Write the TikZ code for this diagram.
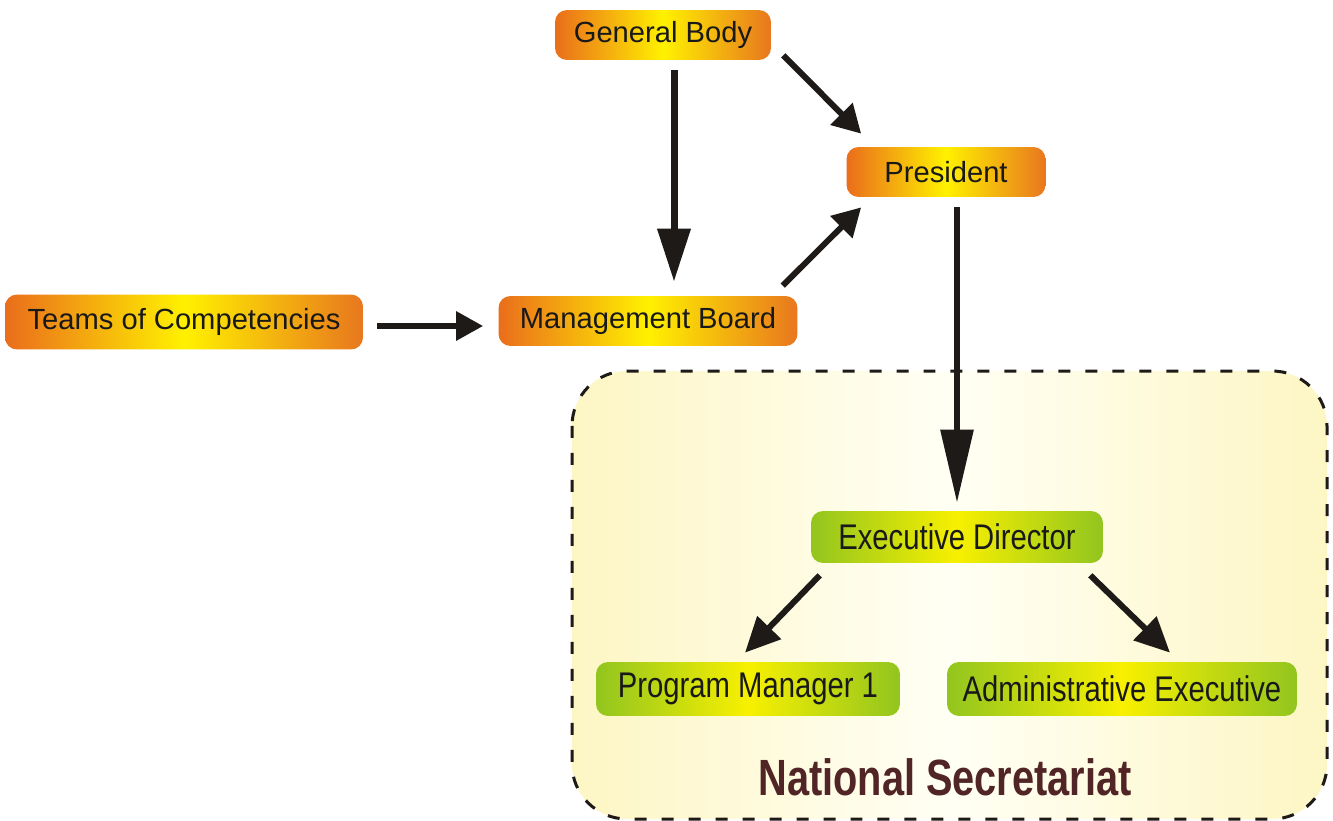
\documentclass[tikz,border=0pt]{standalone}
\usepackage{fontspec}
\setmainfont{Liberation Sans}
\newfontfamily\narrowfont[FakeStretch=0.82]{Liberation Sans}
\newfontfamily\titlefont[FakeStretch=0.78]{Liberation Sans}
\usetikzlibrary{arrows.meta,calc}
\definecolor{orEdge}{HTML}{E8771E}
\definecolor{orMid}{HTML}{FFF100}
\definecolor{grEdge}{HTML}{92C51F}
\definecolor{grMid}{HTML}{F8F000}
\definecolor{boxEdge}{HTML}{FDF6C4}
\definecolor{boxMid}{HTML}{FFFFF4}
\definecolor{arrowCol}{HTML}{1E1A18}
\definecolor{titleCol}{HTML}{512426}
\tikzset{
	orbox/.style={rounded corners=0.24cm,left color=orEdge!92!red,right color=orEdge,middle color=orMid,
		inner sep=0pt,font=\fontsize{16.6}{19}\selectfont,text=black!90},
	grbox/.style={rounded corners=0.24cm,left color=grEdge,right color=grEdge,middle color=grMid,
		inner sep=0pt,font=\narrowfont\fontsize{20.3}{23}\selectfont,text=black!90},
	arr/.style={draw=arrowCol,line width=0.12cm},
}
\begin{document}
\begin{tikzpicture}[x=0.02cm,y=-0.02cm]
		\useasboundingbox (0,0) rectangle (1333,821);
		% national secretariat frame
		\draw[rounded corners=1.1cm,dash pattern=on 0.24cm off 0.3cm,line width=0.06cm,draw=arrowCol,
			left color=boxEdge,right color=boxEdge,middle color=boxMid] (572,371) rectangle (1327,819);
		\node[font=\titlefont\bfseries\fontsize{29}{33}\selectfont,text=titleCol] (NS) at (945,777) {National Secretariat};
		
		\node[orbox,minimum width=4.32cm,minimum height=1cm] (GB) at (663,35) {General Body};
		\node[orbox,minimum width=3.98cm,minimum height=1cm] (P) at (946,172) {President};
		\node[orbox,minimum width=7.16cm,minimum height=1.1cm] (TC) at (184,322) {Teams of Competencies};
		\node[orbox,minimum width=5.98cm,minimum height=1cm] (MB) at (648,321) {Management Board};
		\node[grbox,minimum width=5.84cm,minimum height=1.04cm] (ED) at (957,537) {Executive Director};
		\node[grbox,minimum width=6.08cm,minimum height=1.08cm] (PM) at (748,689) {Program Manager 1};
		\node[grbox,minimum width=7cm,minimum height=1.08cm] (AE) at (1122,689) {Administrative Executive};
		
		\draw[arr,line width=0.14cm,-{Triangle[length=1.06cm,width=0.64cm]}] ($(GB.south)+(11,10)$) -- ($(MB.north)+(26,-14)$);
		\draw[arr,-{Triangle[length=0.56cm,width=0.6cm]}] ($(GB.south east)+(12,-5)$) -- ($(P.north west)+(15,-13)$);
		\draw[arr,-{Triangle[length=0.56cm,width=0.6cm]}] ($(MB.north east)+(-15,-10)$) -- ($(P.south west)+(15,10)$);
		\draw[arr,-{Triangle[length=0.54cm,width=0.56cm]}] ($(TC.east)+(14,4)$) -- ($(MB.west)+(-15,5)$);
		\draw[arr,-{Triangle[length=1.46cm,width=0.64cm]}] ($(P.south)+(11,10)$) -- ($(ED.north)+(0,-8)$);
		\draw[arr,-{Triangle[length=0.7cm,width=0.64cm]}] ($(ED.south west)+(9,12)$) -- ($(PM.north)+(-3,-9)$);
		\draw[arr,-{Triangle[length=0.7cm,width=0.64cm]}] ($(ED.south east)+(-13,12)$) -- ($(AE.north)+(48,-9)$);
		
		\end{tikzpicture}
\end{document}
